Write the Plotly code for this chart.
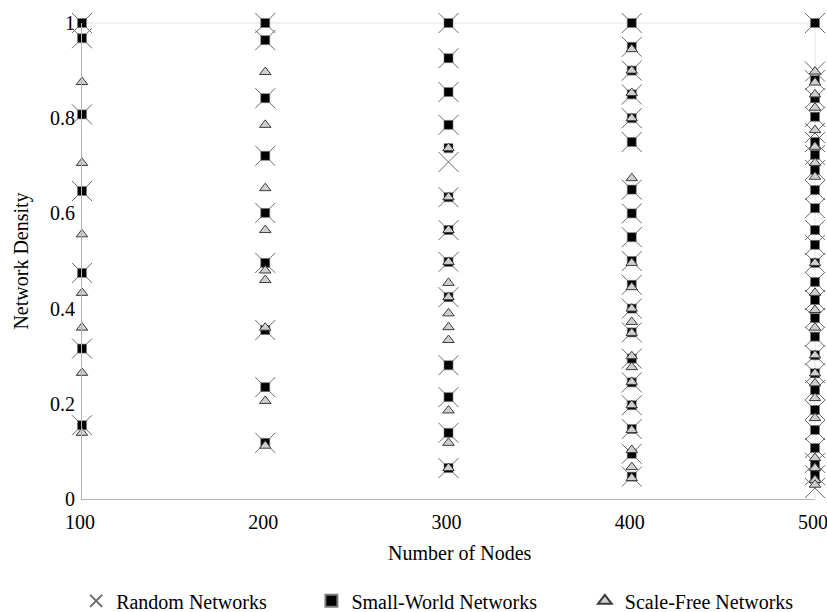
import plotly.graph_objects as go

# Network size groups on the x axis
node_counts = [100, 200, 300, 400, 500]

# Density values per node count, one list per network model
random_density = {
    100: [1.0, 0.968, 0.808, 0.647, 0.475, 0.316, 0.155],
    200: [1.0, 0.964, 0.842, 0.721, 0.601, 0.496, 0.355, 0.235, 0.118],
    300: [1.0, 0.926, 0.855, 0.786, 0.708, 0.634, 0.565, 0.498, 0.424, 0.281, 0.214, 0.139, 0.065],
    400: [1.0, 0.95, 0.90, 0.85, 0.80, 0.75, 0.65, 0.60, 0.55, 0.50, 0.45, 0.40, 0.35, 0.295,
          0.245, 0.197, 0.147, 0.095, 0.047],
    500: [1.0, 0.898, 0.88, 0.842, 0.803, 0.769, 0.75, 0.723, 0.691, 0.649, 0.611, 0.565, 0.534,
          0.496, 0.456, 0.418, 0.38, 0.341, 0.302, 0.264, 0.229, 0.187, 0.145, 0.107, 0.076,
          0.05, 0.023],
}

small_world_density = {
    100: [1.0, 0.968, 0.808, 0.647, 0.475, 0.316, 0.155],
    200: [1.0, 0.964, 0.842, 0.721, 0.601, 0.496, 0.355, 0.235, 0.118],
    300: [1.0, 0.926, 0.855, 0.786, 0.737, 0.634, 0.565, 0.498, 0.424, 0.281, 0.214, 0.139, 0.065],
    400: [1.0, 0.95, 0.90, 0.85, 0.80, 0.75, 0.65, 0.60, 0.55, 0.50, 0.45, 0.40, 0.35, 0.295,
          0.245, 0.197, 0.147, 0.095, 0.047],
    500: [1.0, 0.88, 0.842, 0.803, 0.75, 0.723, 0.691, 0.649, 0.611, 0.565, 0.534, 0.496, 0.456,
          0.418, 0.38, 0.341, 0.302, 0.264, 0.229, 0.187, 0.145, 0.107, 0.076, 0.05],
}

scale_free_density = {
    100: [0.876, 0.706, 0.556, 0.433, 0.360, 0.265, 0.139],
    200: [0.897, 0.786, 0.653, 0.565, 0.480, 0.460, 0.360, 0.206, 0.112],
    300: [0.737, 0.634, 0.565, 0.498, 0.454, 0.424, 0.390, 0.361, 0.334, 0.186, 0.118, 0.065],
    400: [0.945, 0.90, 0.853, 0.80, 0.674, 0.496, 0.445, 0.40, 0.372, 0.349, 0.30, 0.277, 0.246,
          0.197, 0.145, 0.103, 0.067, 0.044],
    500: [0.898, 0.875, 0.85, 0.822, 0.775, 0.740, 0.706, 0.677, 0.496, 0.433, 0.397, 0.360,
          0.302, 0.264, 0.243, 0.212, 0.170, 0.086, 0.065, 0.040, 0.030],
}

y_tick_values = [0, 0.2, 0.4, 0.6, 0.8, 1]
y_tick_labels = ["0", "0.2", "0.4", "0.6", "0.8", "1"]

SERIF = "Liberation Serif, Times New Roman, serif"
FONT = dict(family=SERIF, size=20, color="#000000")


def flatten(series):
    xs, ys = [], []
    for n in node_counts:
        for v in series[n]:
            xs.append(n)
            ys.append(v)
    return xs, ys


fig = go.Figure()

rx, ry = flatten(random_density)
fig.add_trace(go.Scatter(
    x=rx, y=ry, mode="markers", name="Random Networks", legend="legend",
    marker=dict(symbol="x-thin", size=20, line=dict(color="#6a6a6a", width=1)),
    cliponaxis=False,
))

sx, sy = flatten(small_world_density)
fig.add_trace(go.Scatter(
    x=sx, y=sy, mode="markers", name="Small-World Networks", legend="legend2",
    marker=dict(symbol="square", size=9, color="#000000", line=dict(color="#7a7a7a", width=0.6)),
    cliponaxis=False,
))

fx, fy = flatten(scale_free_density)
fig.add_trace(go.Scatter(
    x=fx, y=fy, mode="markers", name="Scale-Free Networks", legend="legend3",
    marker=dict(symbol="triangle-up", size=10, color="#cfcfcf", line=dict(color="#3c3c3c", width=1)),
    cliponaxis=False,
))

legend_common = dict(
    orientation="h", yanchor="middle", xanchor="left", y=-0.214,
    font=FONT, bgcolor="rgba(0,0,0,0)", itemsizing="constant",
)

fig.update_layout(
    width=827, height=612,
    margin=dict(l=82, r=12, t=23, b=113, autoexpand=False),
    paper_bgcolor="#ffffff", plot_bgcolor="#ffffff",
    font=FONT,
    showlegend=True,
    legend=dict(legend_common, x=-0.008),
    legend2=dict(legend_common, x=0.313),
    legend3=dict(legend_common, x=0.686),
    xaxis=dict(
        range=[100, 500], tickvals=node_counts, showgrid=False, zeroline=False,
        showline=True, linecolor="#b4b4b4", linewidth=1, ticks="",
        tickfont=FONT, ticklabeloverflow="allow", ticklabelstandoff=5,
        ticklabelshift=-2,
    ),
    yaxis=dict(
        range=[0, 1], tickvals=y_tick_values, ticktext=y_tick_labels, showgrid=False,
        zeroline=False, showline=True, linecolor="#b4b4b4", linewidth=1, ticks="",
        tickfont=FONT, ticklabelstandoff=2,
        title=dict(text="Network Density", font=FONT, standoff=16),
    ),
    annotations=[dict(
        text="Number of Nodes", xref="paper", yref="paper", x=0.5157, y=-0.1134,
        xanchor="center", yanchor="middle", showarrow=False, font=FONT,
    )],
    shapes=[
        dict(type="line", xref="paper", yref="paper", x0=0, x1=1, y0=1, y1=1,
             line=dict(color="#e2e2e2", width=1), layer="below"),
        dict(type="line", xref="paper", yref="paper", x0=1, x1=1, y0=0, y1=1,
             line=dict(color="#e2e2e2", width=1), layer="below"),
    ],
)

fig.write_html("out.html")
